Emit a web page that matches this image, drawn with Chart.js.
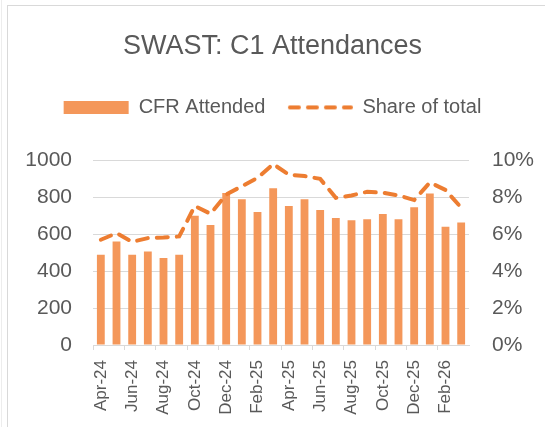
<!DOCTYPE html>
<html>
<head>
<meta charset="utf-8">
<title>SWAST: C1 Attendances</title>
<script src="https://cdn.jsdelivr.net/npm/chart.js@4"></script>
<style>
    html, body { margin: 0; padding: 0; background: #fff; }
    #wrap { position: relative; width: 545px; height: 427px; overflow: hidden; }
    #frame { position: absolute; left: 7px; top: 5px; width: 600px; height: 500px; border: 1px solid #D9D9D9; }
    #edge { position: absolute; left: 1px; top: 0; height: 427px; border-left: 1px solid #EDEDED; }
    canvas { position: absolute; left: 0; top: 0; }
</style>
</head>
<body>
<div id="wrap">
    <div id="edge"></div>
    <div id="frame"></div>
    <canvas id="c1Chart" width="545" height="427"></canvas>
</div>
<script>
// ==========================
// DATA
// ==========================
const months = [
    "Apr-24", "May-24", "Jun-24", "Jul-24", "Aug-24", "Sep-24",
    "Oct-24", "Nov-24", "Dec-24", "Jan-25", "Feb-25", "Mar-25",
    "Apr-25", "May-25", "Jun-25", "Jul-25", "Aug-25", "Sep-25",
    "Oct-25", "Nov-25", "Dec-25", "Jan-26", "Feb-26", "Mar-26"
];
const cfrAttended = [
    489, 561, 489, 507, 471, 489,
    700, 650, 824, 790, 720, 849,
    753, 790, 731, 688, 676, 681,
    710, 681, 746, 821, 640, 663
];
// share of total C1 incidents, in percent
const shareOfTotal = [
    5.70, 6.06, 5.59, 5.79, 5.82, 5.88,
    7.53, 7.11, 8.15, 8.60, 9.05, 9.80,
    9.23, 9.15, 9.00, 7.97, 8.10, 8.30,
    8.25, 8.10, 7.85, 8.80, 8.40, 7.44
];
const countMax = 1000;
const countStep = 200;
const shareMax = 10;
const shareStep = 2;

const grey = "#595959";
const gridGrey = "#D9D9D9";
const lineOrange = "#ED7D31";
const FONT = "'Liberation Sans', Arial, sans-serif";

// dashed swatch for the legend (point style 'line' ignores the dash)
function dashSwatch() {
    const c = document.createElement("canvas");
    c.width = 66;
    c.height = 8;
    const g = c.getContext("2d");
    g.strokeStyle = lineOrange;
    g.lineWidth = 4;
    g.lineCap = "round";
    g.setLineDash([9, 9]);
    g.beginPath();
    g.moveTo(3, 4);
    g.lineTo(64, 4);
    g.stroke();
    return c;
}

// push the plot down below the legend
const legendGap = {
    id: "legendGap",
    beforeInit(chart) {
        const fit = chart.legend.fit;
        chart.legend.fit = function () {
            fit.bind(chart.legend)();
            this.height += 33;
        };
    }
};

const ctx = document.getElementById("c1Chart");
new Chart(ctx, {
    data: {
        labels: months,
        datasets: [
            {
                type: "bar",
                label: "CFR Attended",
                data: cfrAttended,
                backgroundColor: "#F4975A",
                borderWidth: 0,
                pointStyle: "rect",
                yAxisID: "y",
                order: 1,
                categoryPercentage: 1,
                barPercentage: 0.5
            },
            {
                type: "line",
                label: "Share of total",
                data: shareOfTotal,
                borderColor: lineOrange,
                backgroundColor: lineOrange,
                borderWidth: 4,
                borderDash: [11, 9],
                borderCapStyle: "round",
                pointRadius: 0,
                pointStyle: dashSwatch(),
                tension: 0,
                yAxisID: "y1",
                order: 0
            }
        ]
    },
    options: {
        responsive: false,
        animation: false,
        layout: { padding: { top: 0, left: 0, right: 0, bottom: 0 } },
        plugins: {
            title: {
                display: true,
                text: "SWAST: C1 Attendances",
                color: grey,
                font: { family: FONT, size: 27, weight: "normal" },
                padding: { top: 30, bottom: 13 }
            },
            legend: {
                display: true,
                labels: {
                    usePointStyle: true,
                    pointStyleWidth: 65,
                    boxHeight: 13,
                    padding: 22,
                    color: grey,
                    font: { family: FONT, size: 20 },
                    sort: (a, b) => a.datasetIndex - b.datasetIndex
                }
            },
            tooltip: { enabled: false }
        },
        scales: {
            x: {
                offset: true,
                grid: {
                    offset: true,
                    drawOnChartArea: false,
                    drawTicks: true,
                    tickLength: 5,
                    tickColor: (c) => (c.index % 2 === 0 ? gridGrey : "rgba(0,0,0,0)")
                },
                border: { display: true, color: gridGrey, width: 1 },
                ticks: {
                    autoSkip: false,
                    maxRotation: 90,
                    minRotation: 90,
                    padding: 10,
                    color: grey,
                    font: { family: FONT, size: 17 },
                    callback: function (val, i) {
                        return i % 2 === 0 ? this.getLabelForValue(val) : "";
                    }
                },
                afterFit: (scale) => { scale.height = 82; }
            },
            y: {
                position: "left",
                min: 0,
                max: countMax,
                grid: { color: gridGrey, drawTicks: false },
                border: { display: false },
                ticks: {
                    stepSize: countStep,
                    padding: 21,
                    color: grey,
                    font: { family: FONT, size: 21 },
                    callback: (v) => String(v)
                },
                afterFit: (scale) => { scale.width = 93; }
            },
            y1: {
                position: "right",
                min: 0,
                max: shareMax,
                grid: { drawOnChartArea: false, drawTicks: false },
                border: { display: false },
                ticks: {
                    stepSize: shareStep,
                    padding: 23,
                    color: grey,
                    font: { family: FONT, size: 21 },
                    callback: (v) => v + "%"
                },
                afterFit: (scale) => { scale.width = 76; }
            }
        }
    },
    plugins: [legendGap]
});
</script>
</body>
</html>
